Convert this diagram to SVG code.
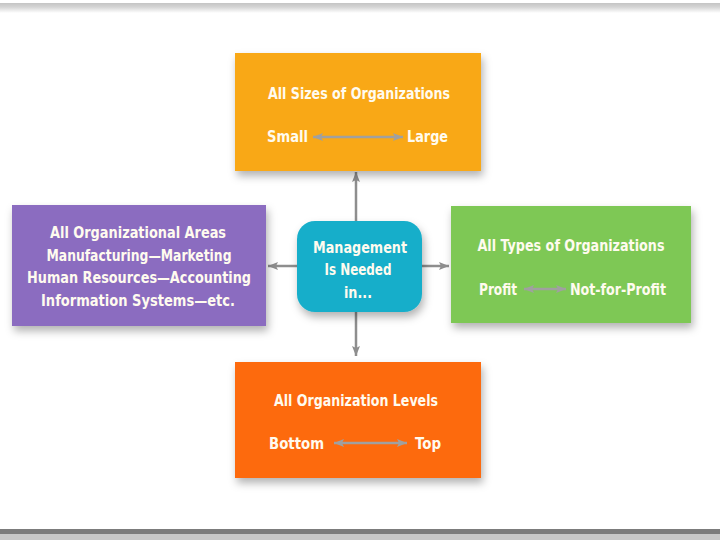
<svg xmlns="http://www.w3.org/2000/svg" width="720" height="540" viewBox="0 0 720 540">
  <defs>
    <style>
      .t { font-family: "DejaVu Sans Condensed", "Liberation Sans", sans-serif; font-weight: bold; font-size: 16px; fill: #FFFBEF; text-anchor: middle; }
      .tl { text-anchor: start; }
      .conn { stroke: #8E8E8E; stroke-width: 2.5; fill: none; }
      .inner { stroke: #A0A0A0; stroke-width: 2.5; fill: none; }
    </style>
    <filter id="shadow" x="-10%" y="-10%" width="125%" height="135%">
      <feDropShadow dx="2" dy="5" stdDeviation="4" flood-color="#000" flood-opacity="0.3"/>
    </filter>
    <marker id="ah" viewBox="0 0 10 8" refX="10" refY="4" markerWidth="10" markerHeight="8" markerUnits="userSpaceOnUse" orient="auto-start-reverse">
      <path d="M0,0 L10,4 L0,8 L2,4 Z" fill="#8E8E8E"/>
    </marker>
    <marker id="ih" viewBox="0 0 10 8" refX="10" refY="4" markerWidth="10" markerHeight="8" markerUnits="userSpaceOnUse" orient="auto-start-reverse">
      <path d="M0,0 L10,4 L0,8 L2,4 Z" fill="#A0A0A0"/>
    </marker>
    <linearGradient id="topbar" x1="0" y1="0" x2="0" y2="1">
      <stop offset="0" stop-color="#C4C4C4"/>
      <stop offset="0.4" stop-color="#D4D4D4"/>
      <stop offset="1" stop-color="#FFFFFF"/>
    </linearGradient>
  </defs>

  <rect x="0" y="0" width="720" height="540" fill="#FFFFFF"/>
  <rect x="0" y="3" width="720" height="10" fill="url(#topbar)"/>
  <rect x="0" y="529" width="720" height="5" fill="#7C7C7C"/>
  <rect x="0" y="534" width="720" height="6" fill="#C8C8C8"/>

  <g id="connectors">
    <line class="conn" x1="356" y1="222" x2="356" y2="172" marker-end="url(#ah)"/>
    <line class="conn" x1="356" y1="311" x2="356" y2="356" marker-end="url(#ah)"/>
    <line class="conn" x1="298" y1="266" x2="268" y2="266" marker-end="url(#ah)"/>
    <line class="conn" x1="421" y1="266" x2="449" y2="266" marker-end="url(#ah)"/>
  </g>

  <g id="sizes">
    <rect x="235" y="53" width="246" height="118" fill="#F9A814" filter="url(#shadow)"/>
    <text class="t" x="359" y="99" textLength="182" lengthAdjust="spacingAndGlyphs">All Sizes of Organizations</text>
    <text class="t tl" x="267" y="142" textLength="41" lengthAdjust="spacingAndGlyphs">Small</text>
    <text class="t tl" x="407" y="142" textLength="41" lengthAdjust="spacingAndGlyphs">Large</text>
    <line class="inner" x1="313" y1="137" x2="403" y2="137" marker-start="url(#ih)" marker-end="url(#ih)"/>
  </g>

  <g id="areas">
    <rect x="12" y="205" width="254" height="121" fill="#8B6CC0" filter="url(#shadow)"/>
    <text class="t" x="138" y="238" textLength="176" lengthAdjust="spacingAndGlyphs">All Organizational Areas</text>
    <text class="t" x="139" y="261" textLength="185" lengthAdjust="spacingAndGlyphs">Manufacturing—Marketing</text>
    <text class="t" x="139" y="283" textLength="224" lengthAdjust="spacingAndGlyphs">Human Resources—Accounting</text>
    <text class="t" x="138" y="306" textLength="194" lengthAdjust="spacingAndGlyphs">Information Systems—etc.</text>
  </g>

  <g id="center">
    <rect x="297" y="221" width="125" height="91" rx="18" ry="18" fill="#17AECA" filter="url(#shadow)"/>
    <text class="t" x="360" y="253" textLength="94" lengthAdjust="spacingAndGlyphs">Management</text>
    <text class="t" x="358" y="275" textLength="67" lengthAdjust="spacingAndGlyphs">Is Needed</text>
    <text class="t" x="358" y="298" textLength="28" lengthAdjust="spacingAndGlyphs">in...</text>
  </g>

  <g id="types">
    <rect x="451" y="206" width="240" height="117" fill="#7EC855" filter="url(#shadow)"/>
    <text class="t" x="571" y="251" textLength="187" lengthAdjust="spacingAndGlyphs">All Types of Organizations</text>
    <text class="t tl" x="479" y="295" textLength="38" lengthAdjust="spacingAndGlyphs">Profit</text>
    <text class="t tl" x="570" y="295" textLength="96" lengthAdjust="spacingAndGlyphs">Not-for-Profit</text>
    <line class="inner" x1="524" y1="289" x2="566" y2="289" marker-start="url(#ih)" marker-end="url(#ih)"/>
  </g>

  <g id="levels">
    <rect x="235" y="362" width="246" height="116" fill="#FD6A09" filter="url(#shadow)"/>
    <text class="t" x="356" y="406" textLength="164" lengthAdjust="spacingAndGlyphs">All Organization Levels</text>
    <text class="t tl" x="269" y="449" textLength="55" lengthAdjust="spacingAndGlyphs">Bottom</text>
    <text class="t tl" x="415" y="449" textLength="26" lengthAdjust="spacingAndGlyphs">Top</text>
    <line class="inner" x1="334" y1="443" x2="407" y2="443" marker-start="url(#ih)" marker-end="url(#ih)"/>
  </g>
</svg>
